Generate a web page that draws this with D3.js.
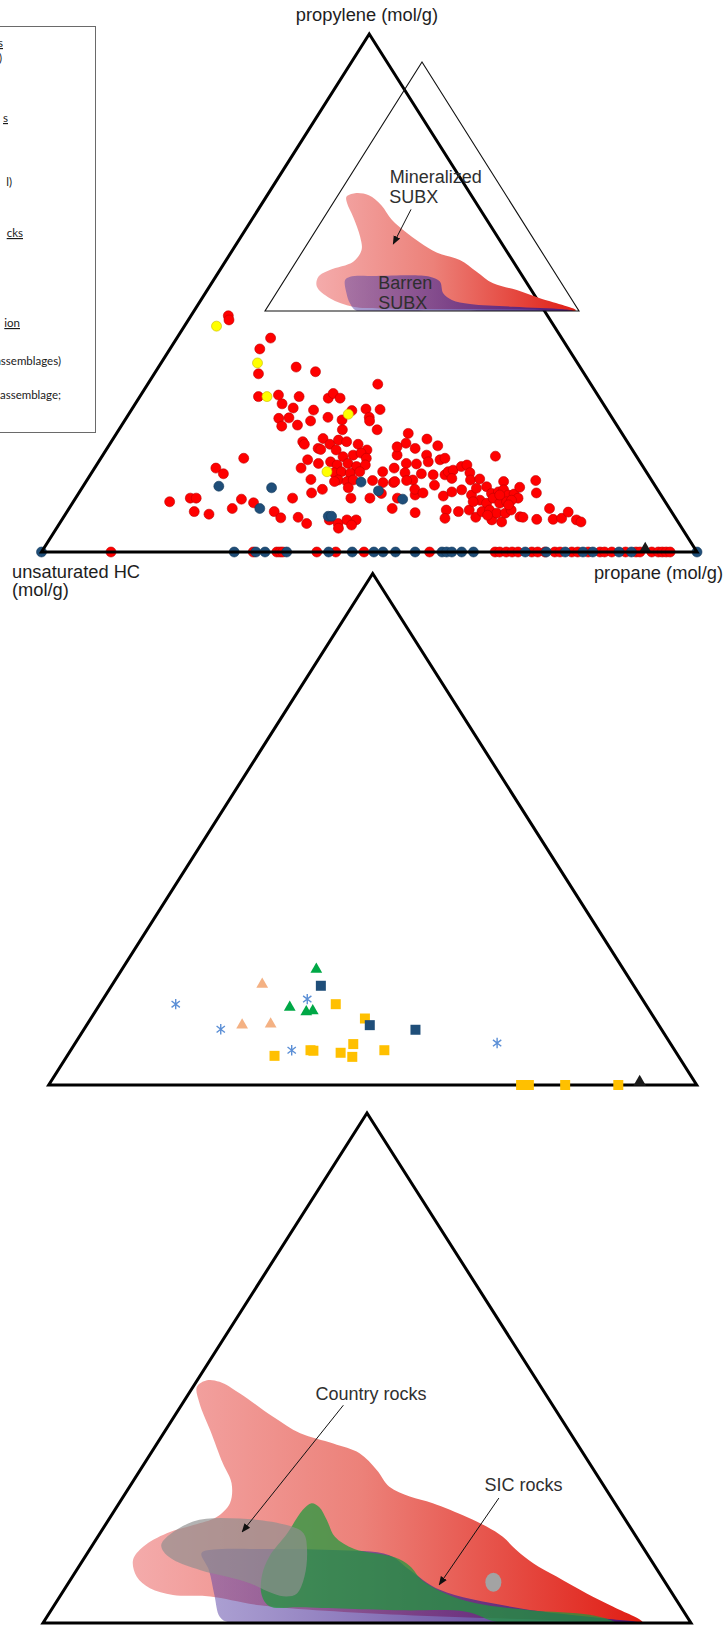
<!DOCTYPE html>
<html><head><meta charset="utf-8">
<script src="https://cdn.jsdelivr.net/npm/d3@7"></script>
<style>
html,body{margin:0;padding:0;background:#fff;}
svg{display:block;}
text{font-family:"Liberation Sans",Arial,sans-serif;}
</style></head><body>
<svg id="chart" width="727" height="1627"></svg>
<script>
// ---------- DATA (ternary: [propane %, propylene %]; remainder = unsaturated HC) ----------
const axisLabels = {top: "propylene (mol/g)", left: ["unsaturated HC", "(mol/g)"], right: "propane (mol/g)"};
const legendFragments = [
  {t: "s", u: true, y: 47, x: 3},
  {t: ")", u: false, y: 62, x: 2},
  {t: "s", u: true, y: 122, x: 8},
  {t: "l)", u: false, y: 186, x: 12},
  {t: "cks", u: true, y: 237, x: 23},
  {t: "ion", u: true, y: 327, x: 20},
  {t: "assemblages)", u: false, y: 365, x: 61},
  {t: "l assemblage;", u: false, y: 399, x: 61}
];

const subxRed = [
[5.7,45.6],[6.2,44.8],[14.3,41.3],[13.7,39.2],[15.9,34.4],[21.0,35.7],[24.4,34.8],[35.1,32.4],[18.1,30.0],[21.0,30.3],
[24.3,30.0],[22.4,28.6],[24.5,27.8],[27.8,27.4],[28.9,29.7],[29.2,30.6],[30.7,29.7],[30.7,26.0],[33.7,27.3],[33.1,25.5],
[35.7,27.6],[37.9,27.5],[37.0,26.0],[37.4,25.3],[39.4,23.6],[23.3,25.8],[24.5,24.3],[24.8,25.9],[26.8,24.5],[28.4,25.3],
[34.1,23.6],[29.2,21.3],[29.7,20.8],[32.0,21.9],[33.6,20.8],[34.5,21.6],[35.9,21.3],[37.9,20.8],[39.8,19.7],[32.2,20.0],
[32.7,19.8],[35.1,19.7],[36.8,18.4],[38.2,18.7],[39.2,19.1],[40.5,18.1],[31.7,17.8],[33.7,17.1],[35.4,17.4],[36.7,16.8],
[38.2,17.1],[39.8,16.5],[41.0,16.8],[31.5,16.2],[37.0,15.3],[38.0,15.5],[39.5,15.2],[40.8,15.5],[38.3,13.9],[39.8,13.6],
[40.6,13.9],[37.9,13.6],[40.6,12.4],[34.1,14.0],[35.5,11.4],[36.8,12.1],[21.8,18.1],[18.5,16.2],[20.2,15.1],[14.7,9.7],
[17.5,10.4],[18.4,10.4],[19.4,7.8],[21.9,7.3],[24.9,8.4],[25.4,10.2],[27.6,9.5],[31.6,7.8],[33.2,6.6],[33.1,10.4],
[35.8,6.7],[37.7,5.5],[40.8,6.2],[42.5,5.5],[43.0,4.6],[43.5,6.2],[44.9,6.2],[44.7,5.2],[42.0,10.4],[44.9,10.4],
[43.6,13.8],[45.4,13.4],[46.2,11.3],[47.0,13.4],[49.3,8.4],[49.1,10.4],[44.3,15.5],[45.7,16.2],[44.9,18.7],[44.5,22.9],
[45.1,21.0],[47.1,17.1],[47.0,20.0],[49.7,13.9],[51.5,11.0],[53.2,7.6],
[47.9,21.8],[44.1,20.3],[50.2,20.5],[48.7,17.0],[49.4,18.7],[50.3,17.4],[51.9,17.8],[52.5,18.1],[60.0,18.5],[47.8,15.3],
[50.4,15.1],[52.3,14.9],[54.1,14.9],[54.3,15.5],[54.9,15.8],[55.8,16.5],[56.5,16.8],[55.5,14.2],[57.7,15.3],[58.5,13.9],
[59.8,14.1],[47.1,13.6],[48.8,13.8],[50.9,12.1],[52.5,11.4],[53.5,12.9],[55.9,10.8],[56.8,11.6],[58.1,12.0],[60.1,11.0],
[60.2,12.3],[61.6,12.6],[63.7,13.6],[63.0,11.3],[63.9,11.6],[64.5,12.0],[65.7,11.0],[66.5,11.2],[66.7,12.5],[67.5,10.4],
[68.5,13.8],[69.8,11.4],[61.9,10.0],[63.2,9.4],[63.7,10.4],[65.2,9.4],[66.1,9.7],[66.7,10.0],[57.7,8.1],[58.3,6.5],
[59.7,7.8],[61.2,8.1],[62.9,6.7],[63.3,7.8],[64.3,8.1],[65.6,6.2],[65.7,7.5],[67.3,5.8],[67.0,7.5],[67.6,8.1],
[69.6,6.8],[70.1,6.7],[72.4,6.3],[73.3,8.4],[74.9,6.3],[76.1,6.5],[76.5,7.7],[78.5,6.2],[79.4,5.8],[64.5,7.1],
[66.7,9.1],[64.4,11.0],[61.0,9.7]
];
const subxBlue = [[20.7,12.7],[28.9,12.4],[29.1,8.4],[40.3,6.9],[40.8,6.9],[42.0,13.5],[45.5,11.8],[50.0,10.2]];
const subxYellow = [[4.9,43.6],[14.7,36.5],[19.4,30.0],[33.5,26.6],[35.8,15.5]];
// samples with zero propylene (on the base line): propane %
const baseRed = [10.6,32.3,35.9,36.4,36.8,42.0,44.9,49.2,59.2,69.2,69.9,70.9,71.8,72.7,74.8,75.7,76.8,78.3,79.1,80.9,81.8,83.4,85.2,85.9,87.0,89.1,90.7,91.3,93.1,94.1,94.7,95.3,95.9];
const baseBlue = [0,29.4,32.7,34.1,37.4,43.8,47.4,50.7,52.1,54.0,57.0,61.1,61.8,62.6,64.1,65.9,73.8,77.0,79.9,82.6,84.1,88.1,90.0,100];
const topBlackTri = [[92.1,0]];

// middle diagram
const midAsterisk = [[11.7,15.8],[21.1,10.9],[31.5,16.8],[34.1,6.8],[65.1,8.2]];
const midSalmonTri = [[23.1,19.7],[24.0,11.7],[28.3,11.9]];
const midGreenTri = [[30.0,22.6],[29.6,15.2],[32.6,14.3],[33.5,14.5]];
const midNavySq = [[32.3,19.4],[43.7,11.7],[51.2,10.8]];
const midGoldSq = [[36.4,15.8],[42.3,13.0],[32.0,5.7],[37.0,6.8],[37.5,6.7],[41.9,6.3],[43.0,8.0],[44.1,5.5],[48.4,6.8],[72.9,0],[74.1,0],[79.7,0],[87.9,0]];
const midBlackTri = [[91.2,0]];

// fields (inset of top diagram)
const insetMineralized = [[3.0,45.9],[5.0,47.3],[9.8,46.5],[15.8,42.5],[22.2,36.5],[28.5,32.0],[35.6,27.5],[42.9,23.5],[51.8,20.5],[59.5,15.8],[67.1,11.1],[76.0,8.4],[85.0,5.1],[98.9,0.3],[84.1,0.6],[62.8,0.8],[36.1,1.0],[27.2,1.7],[18.1,5.1],[11.6,9.8],[10.1,13.8],[12.4,16.5],[18.2,19.8],[18.5,24.5],[15.4,29.8],[9.1,37.9],[4.5,43.3]];
const insetBarren = [[19.3,12.4],[20.2,13.8],[28.5,14.1],[45.6,13.8],[49.8,11.8],[53.2,7.1],[57.3,4.4],[63.9,2.8],[78.2,1.7],[94.6,0.7],[98.0,0.2],[52.4,0.1],[29.1,0.1],[25.5,3.1],[22.4,7.1]];

// fields (bottom diagram)
const fieldSubx = [[0.6,46.3],[1.5,47.6],[3.6,47.3],[7.9,45.0],[15.2,40.5],[21.1,37.2],[27.2,35.2],[32.2,33.3],[36.5,30.0],[40.1,26.7],[44.2,24.8],[48.4,23.5],[55.0,20.8],[59.0,18.9],[62.5,16.9],[65.9,14.3],[69.8,11.7],[74.7,9.1],[81.0,5.8],[86.4,3.2],[92.5,0.1],[77.9,0.6],[54.3,1.6],[31.7,3.5],[23.2,5.2],[17.3,5.5],[13.1,6.8],[9.9,9.1],[7.7,12.4],[8.0,15.0],[10.3,17.6],[13.6,19.2],[16.4,20.8],[17.1,23.5],[15.4,27.4],[12.1,31.3],[6.9,37.8],[2.6,43.1]];
const fieldBarren = [[17.6,13.7],[19.1,14.4],[27.2,14.5],[37.6,14.3],[46.8,13.3],[51.4,10.4],[58.0,6.5],[72.1,2.9],[85.5,1.0],[92.0,0.1],[28.8,0.1],[26.7,1.2],[23.7,5.5],[20.4,10.4]];
const fieldSic = [[29.7,23.5],[31.3,22.7],[33.7,20.2],[36.6,16.9],[40.8,14.5],[47.8,12.9],[51.0,11.2],[54.3,8.4],[59.0,5.9],[64.7,3.9],[73.9,2.5],[83.6,1.6],[88.2,0.1],[70.4,0.1],[64.2,2.2],[53.9,2.5],[38.2,3.1],[33.3,3.3],[31.0,5.5],[29.1,9.4],[28.4,13.1],[28.9,17.6],[29.0,22.2]];
const fieldCountry = [[10.5,15.6],[13.2,19.9],[20.1,20.5],[28.0,19.2],[31.4,17.6],[33.6,14.3],[35.8,9.1],[36.3,5.8],[35.0,5.2],[32.6,5.8],[28.0,7.8],[23.7,9.1],[19.0,10.4],[13.9,12.4],[11.6,14.0]];
const fieldCountrySmall = [[65.5,8.0]];

// annotations (ternary positions)
const insetNotes = [
  {t:"Mineralized", at:[14.1,51.3]}, {t:"SUBX", at:[17.9,43.3]},
  {t:"Barren", at:[31.7,8.7]}, {t:"SUBX", at:[35.7,0.7]}
];
const insetArrow = [[26.1,40.8],[27.4,26.9]];
const bottomNotes = [{t:"Country rocks", at:[20.2,43.7]}, {t:"SIC rocks", at:[55.2,25.9]}];
const bottomArrows = [[[25.0,42.7],[21.8,17.9]], [[58.1,24.5],[57.4,7.5]]];

// ---------- RENDER ----------
const svg = d3.select("#chart");
const defs = svg.append("defs");

function grad(id, stops){
  const g = defs.append("linearGradient").attr("id", id).attr("x1",0).attr("x2",1).attr("y1",0).attr("y2",0);
  stops.forEach(s => g.append("stop").attr("offset", s[0]).attr("stop-color", s[1]).attr("stop-opacity", s[2] == null ? 1 : s[2]));
}
grad("gRed", [[0,"#f4abab"],[0.45,"#ec8179"],[1,"#e01d14"]]);
grad("gPur", [[0,"#5c46a8",0.5],[0.5,"#4d2d92",0.72],[1,"#3a1a86",0.9]]);

defs.append("marker").attr("id","arr").attr("viewBox","0 0 10 10").attr("refX",9).attr("refY",5)
  .attr("markerWidth",9).attr("markerHeight",9).attr("markerUnits","userSpaceOnUse").attr("orient","auto")
  .append("path").attr("d","M0,1 L10,5 L0,9 Z").attr("fill","#111");

function ternary(left, right, baseY, apexY){
  const xs = d3.scaleLinear().domain([0,100]).range([left,right]);
  const ys = d3.scaleLinear().domain([0,100]).range([baseY,apexY]);
  const f = d => [xs(d[0] + d[1]/2), ys(d[1])];
  f.outline = [[0,0],[100,0],[0,100]].map(f);
  return f;
}
const T1 = ternary(41.5, 697, 552, 34);     // top
const TI = ternary(265, 579, 311, 62);      // inset
const T2 = ternary(48.7, 696.7, 1085, 573.5); // middle
const T3 = ternary(43, 691, 1623, 1113);    // bottom

const closedLine = d3.line().curve(d3.curveCatmullRomClosed.alpha(0.5));
const triPath = pts => "M" + pts.map(p => p.join(",")).join("L") + "Z";

// "ж"-like asterisk marker
const symbolStar = {
  draw(ctx, size){
    const r = Math.sqrt(size) * 0.62, a = r * 0.8, b = r * 0.62;
    ctx.moveTo(0, -r); ctx.lineTo(0, r);
    ctx.moveTo(-a, -b); ctx.lineTo(a, b);
    ctx.moveTo(-a, b); ctx.lineTo(a, -b);
  }
};

// ---- legend fragment (box mostly outside the page) ----
const lg = svg.append("g");
lg.append("rect").attr("x",-20).attr("y",26.5).attr("width",115.5).attr("height",406)
  .attr("fill","#fff").attr("stroke","#6a6a6a").attr("stroke-width",1);
lg.selectAll("text").data(legendFragments).join("text")
  .attr("x", d => d.x).attr("y", d => d.y).attr("text-anchor","end")
  .style("font-family","Lato, 'Open Sans', sans-serif").style("font-size","11.5px").attr("fill","#1a1a1a")
  .style("text-decoration", d => d.u ? "underline" : "none")
  .text(d => d.t);

// ---- top diagram ----
const g1 = svg.append("g");
function circles(g, T, data, fill, stroke){
  g.append("g").selectAll("circle").data(data).join("circle")
    .attr("cx", d => T(d)[0]).attr("cy", d => T(d)[1]).attr("r", 5)
    .attr("fill", fill).attr("stroke", stroke).attr("stroke-width", 0.6);
}
circles(g1, T1, subxRed, "#ff0000", "#c00000");
circles(g1, T1, subxBlue, "#1f4e79", "#163a5c");
circles(g1, T1, subxYellow, "#ffff00", "#c9b800");
circles(g1, T1, baseRed.map(q => [q,0]), "#ff0000", "#c00000");
circles(g1, T1, baseBlue.map(q => [q,0]), "#1f4e79", "#163a5c");

function symbols(g, T, data, type, size, fill, stroke, sw, dy){
  g.append("g").selectAll("path").data(data).join("path")
    .attr("transform", d => `translate(${T(d)[0]},${T(d)[1] + (dy||0)})`)
    .attr("d", d3.symbol().type(type).size(size))
    .attr("fill", fill).attr("stroke", stroke || "none").attr("stroke-width", sw || 0);
}

// inset
const gi = svg.append("g");
defs.append("clipPath").attr("id","clipI").append("path").attr("d", triPath(TI.outline));
const gic = gi.append("g").attr("clip-path","url(#clipI)");
gic.append("path").attr("d", closedLine(insetMineralized.map(TI))).attr("fill","url(#gRed)");
gic.append("path").attr("d", closedLine(insetBarren.map(TI))).attr("fill","url(#gPur)");
gi.append("path").attr("d", triPath(TI.outline)).attr("fill","none").attr("stroke","#111").attr("stroke-width",1.1);

// black triangle on top base
symbols(g1, T1, topBlackTri, d3.symbolTriangle, 70, "#1a1a1a", null, 0, -3);

// main outline top
g1.append("path").attr("d", triPath(T1.outline)).attr("fill","none").attr("stroke","#000").attr("stroke-width",3).attr("stroke-linejoin","miter");

// inset labels
gi.selectAll("text.note").data(insetNotes).join("text").attr("class","note")
  .attr("x", d => TI(d.at)[0]).attr("y", d => TI(d.at)[1])
  .style("font-size","18px").attr("fill","#2f2f2f").text(d => d.t);
gi.append("line")
  .attr("x1", TI(insetArrow[0])[0]).attr("y1", TI(insetArrow[0])[1])
  .attr("x2", TI(insetArrow[1])[0]).attr("y2", TI(insetArrow[1])[1])
  .attr("stroke","#111").attr("stroke-width",1).attr("marker-end","url(#arr)");

// axis labels
const axFont = "18.3px";
svg.append("text").attr("x", 367).attr("y", 21).attr("text-anchor","middle")
  .style("font-size",axFont).attr("fill","#1e1e1e").text(axisLabels.top);
svg.append("text").attr("x", 12).attr("y", 578).style("font-size",axFont).attr("fill","#1e1e1e").text(axisLabels.left[0]);
svg.append("text").attr("x", 12).attr("y", 596).style("font-size",axFont).attr("fill","#1e1e1e").text(axisLabels.left[1]);
svg.append("text").attr("x", 723).attr("y", 579).attr("text-anchor","end")
  .style("font-size",axFont).attr("fill","#1e1e1e").text(axisLabels.right);

// ---- middle diagram ----
const g2 = svg.append("g");
symbols(g2, T2, midAsterisk, symbolStar, 70, "none", "#5b8fd6", 1.4);
symbols(g2, T2, midSalmonTri, d3.symbolTriangle, 60, "#f4b183");
symbols(g2, T2, midGreenTri, d3.symbolTriangle, 60, "#00a846");
symbols(g2, T2, midGoldSq.filter(d => d[1] > 0), d3.symbolSquare, 100, "#ffc000");
symbols(g2, T2, midNavySq, d3.symbolSquare, 100, "#1f4e79");
g2.append("path").attr("d", triPath(T2.outline)).attr("fill","none").attr("stroke","#000").attr("stroke-width",3);
symbols(g2, T2, midGoldSq.filter(d => d[1] === 0), d3.symbolSquare, 100, "#ffc000");
symbols(g2, T2, midBlackTri, d3.symbolTriangle, 70, "#1a1a1a", null, 0, -3);

// ---- bottom diagram ----
const g3 = svg.append("g");
defs.append("clipPath").attr("id","clip3").append("path").attr("d", triPath(T3.outline));
const g3c = g3.append("g").attr("clip-path","url(#clip3)");
g3c.append("path").attr("d", closedLine(fieldSubx.map(T3))).attr("fill","url(#gRed)");
g3c.append("path").attr("d", closedLine(fieldBarren.map(T3))).attr("fill","url(#gPur)");
g3c.append("path").attr("d", closedLine(fieldSic.map(T3))).attr("fill","#1d9a3c").attr("fill-opacity",0.72);
g3c.append("path").attr("d", closedLine(fieldCountry.map(T3))).attr("fill","#8f8f8f").attr("fill-opacity",0.68);
g3c.selectAll("ellipse").data(fieldCountrySmall).join("ellipse")
  .attr("cx", d => T3(d)[0]).attr("cy", d => T3(d)[1]).attr("rx", 8).attr("ry", 9.5)
  .attr("fill","#a3a3a3");
g3.append("path").attr("d", triPath(T3.outline)).attr("fill","none").attr("stroke","#000").attr("stroke-width",3);
g3.selectAll("text.note").data(bottomNotes).join("text").attr("class","note")
  .attr("x", d => T3(d.at)[0]).attr("y", d => T3(d.at)[1])
  .style("font-size","18px").attr("fill","#2f2f2f").text(d => d.t);
g3.selectAll("line.arrow").data(bottomArrows).join("line").attr("class","arrow")
  .attr("x1", d => T3(d[0])[0]).attr("y1", d => T3(d[0])[1])
  .attr("x2", d => T3(d[1])[0]).attr("y2", d => T3(d[1])[1])
  .attr("stroke","#111").attr("stroke-width",1).attr("marker-end","url(#arr)");
</script></body></html>
